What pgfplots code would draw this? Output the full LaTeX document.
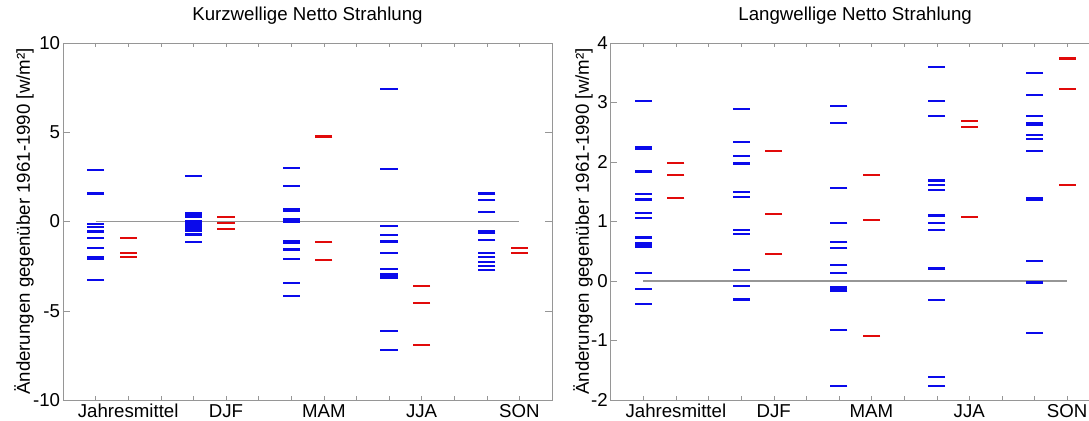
\documentclass[border=0pt]{standalone}
\usepackage{fontspec}
\setmainfont{Liberation Sans}
\usepackage{pgfplots}
\pgfplotsset{compat=1.18}
\definecolor{mblue}{RGB}{10,10,235}
\definecolor{mred}{RGB}{225,10,10}
\definecolor{framegray}{RGB}{150,150,150}
\pgfplotsset{
  panel/.style={
    scale only axis, width=366.75pt, height=267.75pt,
    anchor=south west,
    xmin=0, xmax=15,
    xtick={1,...,14},
    xticklabels={,Jahresmittel,,,DJF,,,MAM,,,JJA,,,SON},
    axis line style={framegray},
    tick style={framegray},
    xtick style={/pgfplots/major tick length=3pt},
    ytick style={/pgfplots/major tick length=5pt},
    tick align=inside,
    tick label style={font=\fontsize{14}{16.8}\selectfont, black},
    yticklabel style={inner xsep=2pt},
    xticklabel style={inner ysep=3pt},
    /pgf/number format/assume math mode=true,
    label style={font=\fontsize{14}{16.8}\selectfont},
    title style={font=\fontsize{14}{16.8}\selectfont, at={(axis description cs:0.5,1)}, anchor=base, yshift=10.5pt},
    ylabel={Änderungen gegenüber 1961-1990 [w/m²]},
    clip=false,
  },
  bl/.style={only marks, mark=-, mark size=6.4pt, mark options={line width=1.6pt, draw=mblue}},
  rd/.style={only marks, mark=-, mark size=6.4pt, mark options={line width=1.6pt, draw=mred}},
}
\begin{document}
\begin{tikzpicture}
\begin{axis}[panel, at={(47.25pt,15.75pt)},
  ymin=-10, ymax=10, ytick={-10,-5,0,5,10},
  title={Kurzwellige Netto Strahlung},
  ylabel style={at={(axis description cs:-0.0675,0.5)}, anchor=base, rotate=0},
]
\addplot[framegray, line width=0.8pt] coordinates {(1,0) (14,0)};
\addplot[bl] coordinates {
 (1,2.9) (1,1.57) (1,-0.15) (1,-0.3) (1,-0.56) (1,-0.92) (1,-1.48) (1,-2.0) (1,-2.1) (1,-3.26)
 (4,2.55) (4,0.45) (4,0.28) (4,0.0) (4,-0.12) (4,-0.22) (4,-0.32) (4,-0.45) (4,-0.55) (4,-0.73) (4,-1.14)
 (7,3.0) (7,2.0) (7,0.72) (7,0.58) (7,0.12) (7,0.0) (7,-1.1) (7,-1.18) (7,-1.57) (7,-2.1) (7,-3.46) (7,-4.16)
 (10,7.4) (10,2.94) (10,-0.26) (10,-0.75) (10,-1.12) (10,-1.76) (10,-2.64) (10,-2.92) (10,-3.05) (10,-3.17) (10,-6.12) (10,-7.21)
 (13,1.57) (13,1.22) (13,0.52) (13,-0.51) (13,-0.66) (13,-1.03) (13,-1.78) (13,-2.0) (13,-2.25) (13,-2.51) (13,-2.72)
};
\addplot[rd] coordinates {
 (2,-0.94) (2,-1.76) (2,-1.97)
 (5,0.24) (5,-0.09) (5,-0.41)
 (8,4.76) (8,-1.14) (8,-2.15)
 (11,-3.61) (11,-4.57) (11,-6.91)
 (14,-1.48) (14,-1.76)
};
\end{axis}
\begin{axis}[panel, at={(458.0pt,15.75pt)},
  ymin=-2, ymax=4, ytick={-2,-1,0,1,2,3,4},
  title={Langwellige Netto Strahlung},
  ylabel style={at={(axis description cs:-0.0445,0.5)}, anchor=base, rotate=0},
]
\addplot[framegray, line width=0.8pt] coordinates {(1,0) (14,0)};
\addplot[bl] coordinates {
 (1,3.02) (1,2.25) (1,2.22) (1,1.84) (1,1.46) (1,1.37) (1,1.14) (1,1.06) (1,0.73) (1,0.63) (1,0.58) (1,0.13) (1,-0.13) (1,-0.38)
 (4,2.89) (4,2.34) (4,2.10) (4,1.98) (4,1.96) (4,1.50) (4,1.41) (4,0.85) (4,0.79) (4,0.19) (4,-0.09) (4,-0.31)
 (7,2.94) (7,2.65) (7,1.56) (7,0.98) (7,0.65) (7,0.55) (7,0.27) (7,0.14) (7,-0.11) (7,-0.16) (7,-0.82) (7,-1.77)
 (10,3.60) (10,3.02) (10,2.77) (10,1.69) (10,1.62) (10,1.53) (10,1.10) (10,0.97) (10,0.86) (10,0.21) (10,-0.32) (10,-1.62) (10,-1.77)
 (13,3.49) (13,3.13) (13,2.78) (13,2.65) (13,2.62) (13,2.45) (13,2.39) (13,2.19) (13,1.39) (13,1.37) (13,0.33) (13,-0.01) (13,-0.03) (13,-0.87)
};
\addplot[rd] coordinates {
 (2,1.98) (2,1.78) (2,1.39)
 (5,2.19) (5,1.12) (5,0.46)
 (8,1.78) (8,1.02) (8,-0.93)
 (11,2.69) (11,2.59) (11,1.07)
 (14,3.74) (14,3.23) (14,1.62)
};
\end{axis}
\pgfresetboundingbox
\path[use as bounding box] (0,0) rectangle (816.75pt,315.75pt);
\end{tikzpicture}
\end{document}
